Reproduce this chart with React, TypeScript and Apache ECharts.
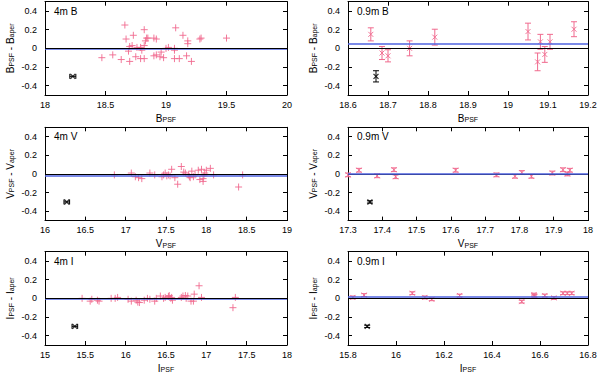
import React, { useEffect, useRef } from 'react';
import * as echarts from 'echarts';

// ---------- data ----------
// 4m B: [B_PSF, B_PSF - B_aper]
const b4mPoints: [number, number][] = [
  [18.47, -0.10], [18.56, -0.07], [18.63, -0.12], [18.66, 0.25], [18.67, 0.10],
  [18.70, 0.02], [18.69, -0.03], [18.70, -0.14], [18.72, 0.03], [18.73, 0.14],
  [18.75, -0.09], [18.76, 0.01], [18.79, 0.01], [18.79, -0.11], [18.80, -0.02],
  [18.82, 0.03], [18.82, 0.20], [18.82, -0.11], [18.83, 0.08], [18.84, 0.11],
  [18.85, 0.11], [18.90, -0.08], [18.90, 0.11], [18.92, 0.10], [18.92, -0.07],
  [18.95, -0.09], [18.96, -0.04], [18.98, -0.10], [19.00, 0.00], [19.02, 0.01],
  [19.07, -0.02], [19.07, -0.11], [19.08, 0.22], [19.07, 0.00], [19.11, -0.11],
  [19.14, 0.14], [19.17, -0.08], [19.18, 0.08], [19.18, 0.05], [19.21, -0.14],
  [19.28, 0.10], [19.29, 0.11], [19.50, 0.11],
];
// 4m V
const v4mPoints: [number, number][] = [
  [16.86, -0.01], [17.07, 0.01], [17.12, -0.03], [17.16, -0.04], [17.20, -0.05],
  [17.30, 0.01], [17.36, -0.01], [17.45, -0.03], [17.47, -0.01], [17.49, 0.01],
  [17.51, -0.02], [17.53, -0.01], [17.55, -0.02], [17.57, 0.05], [17.61, -0.04],
  [17.645, -0.11], [17.69, 0.08], [17.72, 0.02], [17.74, 0.01], [17.78, -0.01],
  [17.79, -0.03], [17.80, -0.04], [17.82, 0.03], [17.84, -0.03], [17.86, -0.01],
  [17.90, 0.04], [17.92, -0.06], [17.94, 0.05], [17.96, -0.05], [17.96, -0.08],
  [17.97, -0.02], [17.98, 0.01], [18.00, 0.04], [18.05, 0.06], [18.09, -0.01],
  [18.40, -0.14], [18.45, -0.01],
];
// 4m I
const i4mPoints: [number, number][] = [
  [15.46, 0.00], [15.56, -0.03], [15.58, -0.01], [15.65, -0.02], [15.67, -0.03],
  [15.82, 0.00], [15.87, 0.00], [15.90, 0.01], [16.03, -0.01], [16.07, -0.03],
  [16.13, -0.02], [16.15, -0.04], [16.17, -0.045], [16.23, -0.02], [16.27, 0.00],
  [16.30, -0.01], [16.36, -0.03], [16.38, 0.00], [16.43, 0.025], [16.47, 0.00],
  [16.49, 0.01], [16.53, 0.02], [16.54, 0.03], [16.56, 0.00], [16.57, 0.01],
  [16.58, -0.02], [16.69, 0.01], [16.71, 0.025], [16.74, 0.03], [16.75, 0.00],
  [16.77, 0.025], [16.81, -0.03], [16.84, -0.03], [16.85, 0.045], [16.91, 0.135],
  [16.94, 0.01], [17.33, -0.10], [17.36, 0.01],
];
// 0.9m B: [B_PSF, diff, error]
const b09Points: [number, number, number][] = [
  [18.657, 0.15, 0.07], [18.685, -0.05, 0.07], [18.70, -0.08, 0.065], [18.754, 0.00, 0.08],
  [18.817, 0.12, 0.085], [19.05, 0.18, 0.09], [19.074, -0.145, 0.095], [19.081, 0.07, 0.08],
  [19.092, -0.065, 0.085], [19.105, 0.07, 0.08], [19.165, 0.205, 0.08],
];
// 0.9m V
const v09Points: [number, number, number][] = [
  [17.30, -0.01, 0.02], [17.332, 0.04, 0.02], [17.385, -0.02, 0.02], [17.434, 0.045, 0.02],
  [17.439, -0.03, 0.02], [17.614, 0.04, 0.02], [17.733, -0.01, 0.02], [17.787, -0.025, 0.02],
  [17.807, 0.015, 0.02], [17.835, -0.025, 0.02], [17.896, 0.01, 0.02], [17.927, 0.045, 0.02],
  [17.94, 0.00, 0.02], [17.947, 0.04, 0.02],
];
// 0.9m I
const i09Points: [number, number, number][] = [
  [15.82, 0.01, 0.015], [15.867, 0.035, 0.015], [16.068, 0.055, 0.015], [16.12, 0.01, 0.015],
  [16.149, -0.01, 0.015], [16.265, 0.03, 0.015], [16.524, -0.035, 0.015], [16.575, 0.04, 0.015],
  [16.577, 0.025, 0.015], [16.62, 0.03, 0.015], [16.658, 0.005, 0.015], [16.696, 0.055, 0.015],
  [16.714, 0.055, 0.015], [16.732, 0.055, 0.015],
];
// typical error markers: [x, y, error]
const b4mRef: [number, number, number] = [18.23, -0.30, 0.025];
const v4mRef: [number, number, number] = [16.27, -0.30, 0.035];
const i4mRef: [number, number, number] = [15.37, -0.30, 0.035];
const b09Ref: [number, number, number] = [18.67, -0.30, 0.06];
const v09Ref: [number, number, number] = [17.364, -0.30, 0.012];
const i09Ref: [number, number, number] = [15.88, -0.30, 0.012];
// offsets of the blue mean lines
const blueOffsets = [0.004, 0.046, -0.017, 0.0, 0.003, 0.018];
const yTickValues = [-0.4, -0.2, 0, 0.2, 0.4];
const panelLabels = ['4m B', '0.9m B', '4m V', '0.9m V', '4m I', '0.9m I'];
const bandNames = ['B', 'B', 'V', 'V', 'I', 'I'];
const xRanges: [number, number, number][] = [
  [18, 20, 0.5], [18.6, 19.2, 0.1], [16, 19, 0.5], [17.3, 18, 0.1], [15, 18, 0.5], [15.8, 16.8, 0.2],
];

// ---------- style / layout ----------
const PINK = '#f06a8e';
const BLUE = '#4f63e0';
const FONT = '"Liberation Sans", Arial, Helvetica, sans-serif';
const COL_LEFT = [45, 348];
const COL_W = [242, 240];
const ROW_TOP = [1.7, 127.3, 251.7];
const ROW_H = 93.3;
const PLUS = 'path://M5,0L5,10M0,5L10,5';
const CROSS = 'path://M0,0L10,10M0,10L10,0';
const BLUE_ON_TOP = [false, true, false, true, false, true];

function vErrItem(color: string, cap: number) {
  return (params: any, api: any) => {
    const x = api.value(0), y = api.value(1), e = api.value(2);
    const a = api.coord([x, y + e]);
    const b = api.coord([x, y - e]);
    const style = { stroke: color, lineWidth: 1, fill: 'none' };
    return {
      type: 'group',
      children: [
        { type: 'line', shape: { x1: a[0], y1: a[1], x2: b[0], y2: b[1] }, style },
        { type: 'line', shape: { x1: a[0] - cap, y1: a[1], x2: a[0] + cap, y2: a[1] }, style },
        { type: 'line', shape: { x1: b[0] - cap, y1: b[1], x2: b[0] + cap, y2: b[1] }, style },
      ],
    };
  };
}
function hErrItem(color: string, cap: number) {
  return (params: any, api: any) => {
    const x = api.value(0), y = api.value(1), e = api.value(2);
    const a = api.coord([x - e, y]);
    const b = api.coord([x + e, y]);
    const style = { stroke: color, lineWidth: 1, fill: 'none' };
    return {
      type: 'group',
      children: [
        { type: 'line', shape: { x1: a[0], y1: a[1], x2: b[0], y2: b[1] }, style },
        { type: 'line', shape: { x1: a[0], y1: a[1] - cap, x2: a[0], y2: a[1] + cap }, style },
        { type: 'line', shape: { x1: b[0], y1: b[1] - cap, x2: b[0], y2: b[1] + cap }, style },
      ],
    };
  };
}

const richStyles = {
  m: { fontSize: 10, fontFamily: FONT, lineHeight: 14, verticalAlign: 'bottom', fill: '#000' },
  s: { fontSize: 7, fontFamily: FONT, lineHeight: 6, verticalAlign: 'bottom', fill: '#000' },
};

function buildOption() {
  const grids: any[] = [];
  const xAxes: any[] = [];
  const yAxes: any[] = [];
  const series: any[] = [];
  const graphics: any[] = [];
  const mainPoints: any[] = [b4mPoints, b09Points, v4mPoints, v09Points, i4mPoints, i09Points];
  const refs = [b4mRef, b09Ref, v4mRef, v09Ref, i4mRef, i09Ref];

  for (let g = 0; g < 6; g++) {
    const col = g % 2;
    const row = Math.floor(g / 2);
    const left = COL_LEFT[col];
    const top = ROW_TOP[row];
    const w = COL_W[col];
    grids.push({ left, top, width: w, height: ROW_H, containLabel: false });
    const [xmin, xmax, xint] = xRanges[g];
    const line = { show: true, onZero: false, lineStyle: { color: '#000', width: 1 } };
    const tick = { show: true, inside: true, length: 4, lineStyle: { color: '#000', width: 1 } };
    xAxes.push({
      type: 'value', gridIndex: g, min: xmin, max: xmax, interval: xint, position: 'bottom',
      axisLine: line, axisTick: tick, splitLine: { show: false },
      axisLabel: { color: '#000', fontSize: 9, fontFamily: FONT, margin: 5 },
    });
    xAxes.push({
      type: 'value', gridIndex: g, min: xmin, max: xmax, interval: xint, position: 'top',
      axisLine: line, axisTick: tick, splitLine: { show: false }, axisLabel: { show: false },
    });
    yAxes.push({
      type: 'value', gridIndex: g, min: -0.5, max: 0.5, position: 'left',
      axisLine: line, axisTick: { ...tick, customValues: yTickValues }, splitLine: { show: false },
      axisLabel: { color: '#000', fontSize: 9, fontFamily: FONT, margin: 8, customValues: yTickValues },
    });
    yAxes.push({
      type: 'value', gridIndex: g, min: -0.5, max: 0.5, position: 'right',
      axisLine: line, axisTick: { ...tick, customValues: yTickValues }, splitLine: { show: false },
      axisLabel: { show: false },
    });
    const xi = 2 * g, yi = 2 * g;
    const is09 = col === 1;

    if (is09) {
      series.push({
        type: 'custom', xAxisIndex: xi, yAxisIndex: yi, renderItem: vErrItem(PINK, 3),
        encode: { x: 0, y: 1 }, data: mainPoints[g], silent: true, z: 3,
      });
    }
    const blackLine = { yAxis: 0, lineStyle: { color: '#000', width: 1, type: 'solid' } };
    const blueLine = { yAxis: blueOffsets[g], lineStyle: { color: BLUE, width: 1.6, type: 'solid' } };
    series.push({
      type: 'scatter', xAxisIndex: xi, yAxisIndex: yi, data: mainPoints[g].map((p: number[]) => [p[0], p[1]]),
      symbol: is09 ? CROSS : PLUS, symbolSize: is09 ? 5 : 7,
      itemStyle: { color: 'none', borderColor: PINK, borderWidth: 0.9, opacity: 1 },
      silent: true, z: 4,
      markLine: {
        silent: true, symbol: ['none', 'none'], label: { show: false }, animation: false,
        data: BLUE_ON_TOP[g] ? [blackLine, blueLine] : [blueLine, blackLine],
      },
    });
    // typical error marker (black)
    series.push({
      type: 'custom', xAxisIndex: xi, yAxisIndex: yi,
      renderItem: is09 ? vErrItem('#000', 3) : hErrItem('#000', 2.5),
      encode: { x: 0, y: 1 }, data: [refs[g]], silent: true, z: 5,
    });
    series.push({
      type: 'scatter', xAxisIndex: xi, yAxisIndex: yi, data: [[refs[g][0], refs[g][1]]],
      symbol: CROSS, symbolSize: 5,
      itemStyle: { color: 'none', borderColor: '#000', borderWidth: 1.3 }, silent: true, z: 5,
    });

    // texts
    graphics.push({
      type: 'text', x: left + 9, y: top + 9.5,
      style: { text: panelLabels[g], font: `10px ${FONT}`, fill: '#000', align: 'left', verticalAlign: 'middle' },
    });
    const band = bandNames[g];
    graphics.push({
      type: 'text', x: left + w / 2, y: top + ROW_H + 21,
      style: { text: `{m|${band}}{s|PSF}`, rich: richStyles, align: 'center', verticalAlign: 'middle' },
    });
    graphics.push({
      type: 'text', x: left - 37, y: top + ROW_H / 2, rotation: Math.PI / 2,
      style: { text: `{m|${band}}{s|PSF}{m| - ${band}}{s|aper}`, rich: richStyles, align: 'center', verticalAlign: 'middle' },
    });
  }

  return {
    animation: false,
    backgroundColor: '#fff',
    grid: grids,
    xAxis: xAxes,
    yAxis: yAxes,
    series,
    graphic: graphics,
  };
}

export default function App() {
  const ref = useRef<HTMLDivElement>(null);
  useEffect(() => {
    if (!ref.current) return;
    const chart = echarts.init(ref.current, undefined, { renderer: 'svg' });
    chart.setOption(buildOption() as any);
    return () => chart.dispose();
  }, []);
  return <div ref={ref} style={{ position: 'absolute', left: 0, top: 0, width: 600, height: 372 }} />;
}
